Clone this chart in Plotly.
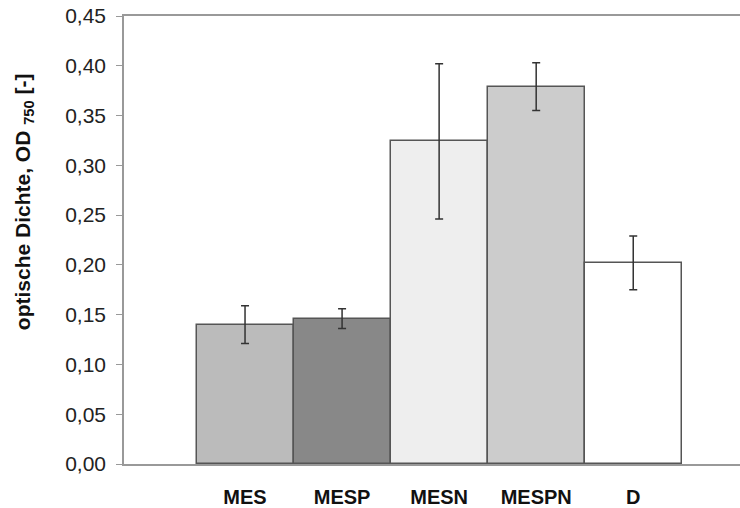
import plotly.graph_objects as go

categories = ["MES", "MESP", "MESN", "MESPN", "D"]
values = [0.140, 0.146, 0.324, 0.379, 0.202]
errors = [0.019, 0.010, 0.078, 0.024, 0.027]
colors = ["#bbbbbb", "#888888", "#eeeeee", "#cccccc", "#ffffff"]
yticks = [0.00, 0.05, 0.10, 0.15, 0.20, 0.25, 0.30, 0.35, 0.40, 0.45]
ytitle = "<b>optische Dichte, OD <sub>750</sub> [-]</b>"

fig = go.Figure(go.Bar(
    x=categories, y=values,
    marker=dict(color=colors, line=dict(color="#555555", width=1.5)),
    error_y=dict(type="data", array=errors, color="#333333", thickness=1.5, width=4),
    width=1.0,
))

fig.update_layout(
    width=740, height=508,
    margin=dict(l=124, r=0, t=16, b=42),
    paper_bgcolor="white", plot_bgcolor="white",
    separators=",.",
    showlegend=False,
    bargap=0,
    font=dict(family="Liberation Sans, Arial", color="#222222"),
)
fig.update_xaxes(
    range=[-1.247, 5.10],
    showline=True, linecolor="#999999", linewidth=1.5, mirror=True,
    ticks="", showgrid=False, zeroline=False,
    tickfont=dict(size=20, family="Liberation Sans, Arial", color="#111111", weight="bold"),
    ticklabelstandoff=14,
)
fig.update_yaxes(
    range=[0, 0.45], tickvals=yticks, tickformat=".2f",
    showline=True, linecolor="#999999", linewidth=1.5,
    ticks="outside", ticklen=6, tickcolor="#999999",
    showgrid=False, zeroline=False,
    tickfont=dict(size=21, color="#222222"),
    ticklabelstandoff=6,
)
fig.add_annotation(
    text=ytitle, textangle=-90, showarrow=False,
    xref="paper", yref="paper",
    x=(24 - 124) / 616, y=(466 - 203) / 450,
    xanchor="center", yanchor="middle",
    font=dict(size=21, color="#111111", family="Liberation Sans, Arial"),
)

fig.write_html("out.html")
